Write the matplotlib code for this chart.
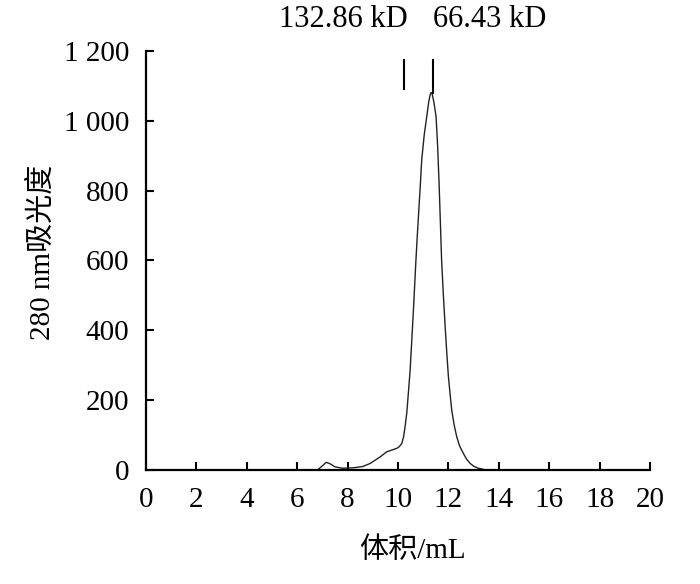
import matplotlib
matplotlib.use("Agg")
import matplotlib.pyplot as plt
from matplotlib.ticker import FuncFormatter

plt.rcParams["font.family"] = ["Liberation Serif", "Noto Sans CJK SC"]

# elution profile
volume_ml = [6.8, 7.0, 7.15, 7.3, 7.5, 7.8, 8.2, 8.6, 8.9, 9.3, 9.55, 9.95,
             10.05, 10.15, 10.22, 10.28, 10.35, 10.41, 10.48, 10.54, 10.62,
             10.71, 10.76, 10.81, 10.88, 10.94, 11.04, 11.14, 11.22, 11.28,
             11.31, 11.35, 11.42, 11.51, 11.57, 11.63, 11.68, 11.73, 11.80,
             11.87, 11.94, 12.0, 12.07, 12.13, 12.23, 12.33, 12.45, 12.59,
             12.72, 12.86, 13.0, 13.19, 13.5]
absorbance = [0, 12, 22, 18, 9, 5, 6, 10, 19, 38, 52, 62,
              67, 76, 95, 124, 165, 220, 285, 363, 470,
              600, 665, 726, 810, 888, 960, 1012, 1055, 1076,
              1081, 1078, 1055, 1012, 930, 821, 710, 600, 500,
              411, 330, 267, 215, 172, 128, 95, 68, 48,
              31, 19, 11, 5, 0]

# molecular weight markers
marker_labels = ["132.86 kD", "66.43 kD"]
marker_x = [10.24, 11.38]
marker_bottom = [1092, 1079]
marker_top = 1175

xticks = list(range(0, 21, 2))
yticks = list(range(0, 1201, 200))

fig = plt.figure(figsize=(7.0, 5.84), dpi=100)
ax = fig.add_axes([0.2086, 0.1952, 0.72, 0.7175])

ax.plot(volume_ml, absorbance, color="#222222", linewidth=1.0, clip_on=False)
for x, yb in zip(marker_x, marker_bottom):
    ax.plot([x, x], [yb, marker_top], color="black", linewidth=1.5)

# labels sit above the plot area
ax.text(7.82, 1290, marker_labels[0], ha="center", va="center", fontsize=22,
        clip_on=False)
ax.text(13.65, 1290, marker_labels[1], ha="center", va="center", fontsize=22,
        clip_on=False)

ax.set_xlim(0, 20)
ax.set_ylim(0, 1200)
ax.set_xticks(xticks)
ax.set_yticks(yticks)
ax.yaxis.set_major_formatter(
    FuncFormatter(lambda v, _: f"{int(v):,}".replace(",", " ")))

for side in ("top", "right"):
    ax.spines[side].set_visible(False)
for side in ("left", "bottom"):
    ax.spines[side].set_linewidth(1.6)

ax.tick_params(axis="both", direction="in", length=6, width=1.5,
               labelsize=21)
ax.tick_params(axis="x", pad=12)
ax.tick_params(axis="y", pad=12)

ax.set_xlabel("体积/mL", fontsize=21)
ax.xaxis.set_label_coords(0.528, -0.16)
ax.set_ylabel("280 nm吸光度", fontsize=21)
ax.yaxis.set_label_coords(-0.18, 0.52)

fig.savefig("out.png", dpi=100)
